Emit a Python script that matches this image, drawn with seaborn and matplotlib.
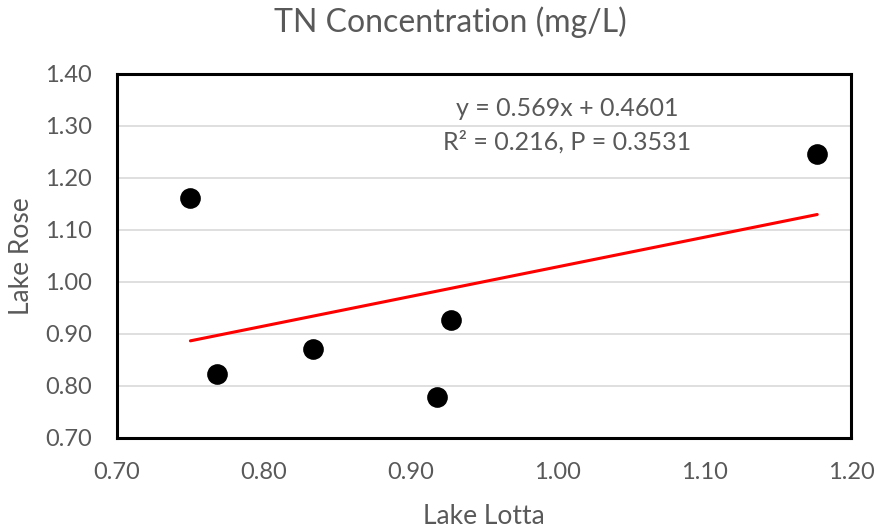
import matplotlib
matplotlib.use("Agg")
import matplotlib.pyplot as plt
import seaborn as sns
import numpy as np
import pandas as pd

lake_lotta = [0.750, 0.768, 0.8335, 0.918, 0.9275, 1.177]
lake_rose = [1.162, 0.824, 0.872, 0.779, 0.927, 1.246]
slope = 0.569
intercept = 0.4601
eq_text = "y = 0.569x + 0.4601"
r2_text = "R² = 0.216, P = 0.3531"
xticks = [0.70, 0.80, 0.90, 1.00, 1.10, 1.20]
yticks = [0.70, 0.80, 0.90, 1.00, 1.10, 1.20, 1.30, 1.40]

sns.set_theme(style="white")
plt.rcParams['font.family'] = ['Lato', 'DejaVu Sans']
gray = "#595959"

df = pd.DataFrame({"Lake Lotta": lake_lotta, "Lake Rose": lake_rose})

W, H = 876, 531
fig = plt.figure(figsize=(8.76, 5.31), dpi=100)
ax = fig.add_axes([117/W, 1-438/H, (851-117)/W, (438-74)/H])

for yv in yticks[1:-1]:
    ax.axhline(yv, color="#d9d9d9", lw=1.2, zorder=0)

sns.scatterplot(data=df, x="Lake Lotta", y="Lake Rose", ax=ax, s=190,
                color="black", edgecolor="black", zorder=3, legend=False)

xl = np.array([min(lake_lotta), max(lake_lotta)])
sns.lineplot(x=xl, y=slope*xl+intercept, ax=ax, color="#ff0000", lw=2.2, zorder=2)

ax.set_xlim(0.70, 1.20)
ax.set_ylim(0.70, 1.40)
ax.set_xticks(xticks)
ax.set_yticks(yticks)
ax.set_xticklabels([f"{v:.2f}" for v in xticks])
ax.set_yticklabels([f"{v:.2f}" for v in yticks])
for s in ax.spines.values():
    s.set_color("black")
    s.set_linewidth(2.2)
ax.tick_params(axis="both", direction="inout", length=10, width=2, color="black",
               labelcolor=gray, labelsize=17)
ax.tick_params(axis="x", top=False, pad=12)
ax.tick_params(axis="y", right=False, pad=13)

ax.set_xlabel("")
ax.set_ylabel("")
fig.text(484/W, 1-517/H, "Lake Lotta", ha="center", va="center", color=gray, fontsize=19)
fig.text(22/W, 1-256/H, "Lake Rose", ha="center", va="center", color=gray, fontsize=19,
         rotation=90)
fig.text(450/W, 1-22/H, "TN Concentration (mg/L)", ha="center", va="center",
         color=gray, fontsize=23)

fig.text(567/W, 1-108/H, eq_text, ha="center", va="center", color=gray, fontsize=18)
fig.text(567/W, 1-142/H, r2_text, ha="center", va="center", color=gray, fontsize=18)

fig.savefig("out.png", dpi=100)
